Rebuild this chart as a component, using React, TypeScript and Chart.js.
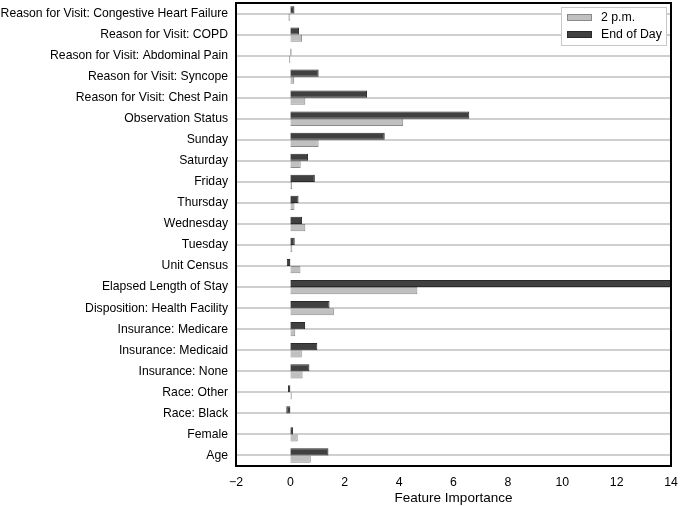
import React, { useEffect, useRef } from "react";
import { Chart, registerables } from "chart.js";

Chart.register(...registerables);

const categories = [
  "Reason for Visit: Congestive Heart Failure",
  "Reason for Visit: COPD",
  "Reason for Visit: Abdominal Pain",
  "Reason for Visit: Syncope",
  "Reason for Visit: Chest Pain",
  "Observation Status",
  "Sunday",
  "Saturday",
  "Friday",
  "Thursday",
  "Wednesday",
  "Tuesday",
  "Unit Census",
  "Elapsed Length of Stay",
  "Disposition: Health Facility",
  "Insurance: Medicare",
  "Insurance: Medicaid",
  "Insurance: None",
  "Race: Other",
  "Race: Black",
  "Female",
  "Age",
];

const endOfDay = [0.15, 0.32, 0.04, 1.04, 2.82, 6.58, 3.47, 0.65, 0.9, 0.3, 0.43, 0.16, -0.13, 14.2, 1.44, 0.54, 0.99, 0.7, -0.09, -0.15, 0.1, 1.4];
const twoPm = [-0.07, 0.43, -0.05, 0.14, 0.55, 4.15, 1.04, 0.38, 0.06, 0.15, 0.55, 0.07, 0.37, 4.67, 1.6, 0.18, 0.42, 0.45, 0.05, 0.01, 0.27, 0.75];

const xTicks = [-2, 0, 2, 4, 6, 8, 10, 12, 14];

const seriesNames = ["2 p.m.", "End of Day"];
const FONT = "Arial, 'Liberation Sans', sans-serif";

export default function App() {
  const ref = useRef<HTMLCanvasElement | null>(null);

  useEffect(() => {
    document.body.style.margin = "0";
    const canvas = ref.current!;
    const frame = {
      id: "frame",
      afterDatasetsDraw(chart: any) {
        const { ctx, chartArea: a } = chart;
        ctx.save();
        ctx.strokeStyle = "#000";
        ctx.lineWidth = 2;
        ctx.strokeRect(a.left, a.top, a.right - a.left, a.bottom - a.top);
        // legend
        const lx = 561, ly = 7, lw = 105, lh = 38;
        ctx.fillStyle = "#fff";
        ctx.fillRect(lx, ly, lw, lh);
        ctx.strokeStyle = "#c8c8c8";
        ctx.lineWidth = 1;
        ctx.strokeRect(lx + 0.5, ly + 0.5, lw, lh);
        const items = [
          { label: seriesNames[0], fill: "#c0c0c0", border: "#8a8a8a" },
          { label: seriesNames[1], fill: "#404040", border: "#2a2a2a" },
        ];
        ctx.font = "12.3px " + FONT;
        ctx.textBaseline = "middle";
        ctx.textAlign = "left";
        items.forEach((it, i) => {
          const y = ly + 10 + i * 17;
          ctx.fillStyle = it.fill;
          ctx.fillRect(lx + 6, y - 3, 25, 7);
          ctx.strokeStyle = it.border;
          ctx.strokeRect(lx + 6.5, y - 2.5, 24, 6);
          ctx.fillStyle = "#000";
          ctx.fillText(it.label, lx + 40, y + 1);
        });
        ctx.restore();
      },
    };

    const chart = new Chart(canvas, {
      type: "bar",
      data: {
        labels: categories,
        datasets: [
          {
            label: seriesNames[1],
            data: endOfDay,
            backgroundColor: "#404040",
            borderColor: "#2a2a2a",
            borderWidth: 1,
            categoryPercentage: 0.68,
            barPercentage: 1,
          },
          {
            label: seriesNames[0],
            data: twoPm,
            backgroundColor: "#c0c0c0",
            borderColor: "#8a8a8a",
            borderWidth: 1,
            categoryPercentage: 0.68,
            barPercentage: 1,
          },
        ],
      },
      options: {
        indexAxis: "y",
        responsive: false,
        animation: false,
        layout: { padding: { top: 3, right: 9, left: 0, bottom: 0 } },
        plugins: {
          legend: { display: false },
          tooltip: { enabled: false },
        },
        scales: {
          x: {
            type: "linear",
            min: -2,
            max: 14,
            afterBuildTicks(scale: any) {
              scale.ticks = xTicks.map((v) => ({ value: v }));
            },
            afterFit(scale: any) {
              scale.height = 40;
              scale.paddingLeft = 0;
              scale.paddingRight = 0;
            },
            grid: { display: false, drawTicks: false, tickLength: 0 },
            border: { display: false },
            ticks: {
              color: "#000",
              font: { size: 12.3, family: FONT },
              padding: 9,
              callback: (v: any) => (Number(v) < 0 ? "\u2212" + Math.abs(Number(v)) : String(v)),
            },
            title: {
              display: true,
              text: "Feature Importance",
              color: "#000",
              font: { size: 13.5, family: FONT },
              padding: { top: 3, bottom: 0 },
            },
          },
          y: {
            type: "category",
            afterFit(scale: any) {
              scale.width = 236;
              scale.paddingTop = 0;
              scale.paddingBottom = 0;
            },
            grid: {
              offset: false,
              color: "#cfcfcf",
              lineWidth: 2,
              drawTicks: false,
            },
            border: { display: false },
            ticks: {
              color: "#000",
              font: { size: 12.2, family: FONT },
              padding: 8,
              autoSkip: false,
            },
          },
        },
      },
      plugins: [frame],
    } as any);
    return () => chart.destroy();
  }, []);

  return <canvas ref={ref} width={680} height={506} style={{ display: "block" }} />;
}
